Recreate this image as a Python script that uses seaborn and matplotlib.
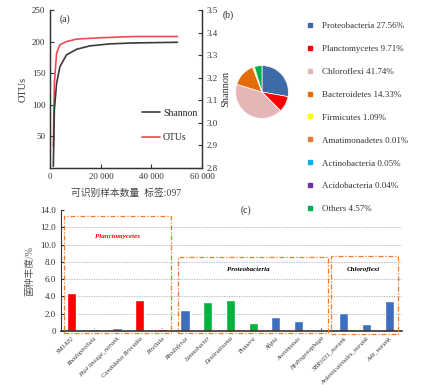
import numpy as np
import pandas as pd
import seaborn as sns
import matplotlib
matplotlib.use("Agg")
import matplotlib.pyplot as plt
from matplotlib.lines import Line2D
from matplotlib.patches import Rectangle

sns.set_style("ticks")
plt.rcParams['font.family'] = ['Liberation Serif', 'Noto Sans CJK SC', 'DejaVu Sans']

# ---- (a) rarefaction data ----
otu_x = [1200, 1600, 2500, 3800, 6400, 10400, 19600, 32800, 50300]
otu_y = [34, 134, 182, 195, 200, 204, 206, 208, 208]
sh_x = [1200, 1600, 2500, 3800, 6400, 10400, 15600, 23600, 32800, 50300]
sh_y = [2.807, 3.058, 3.176, 3.249, 3.301, 3.326, 3.341, 3.350, 3.354, 3.357]

# ---- (b) phylum composition ----
phyla = ["Proteobacteria", "Planctomycetes", "Chloroflexi", "Bacteroidetes", "Firmicutes",
         "Amatimonadetes", "Actinobacteria", "Acidobacteria", "Others"]
phyla_pct = [27.56, 9.71, 41.74, 14.33, 1.09, 0.01, 0.05, 0.04, 4.57]
phyla_labels = ["27.56%", "9.71%", "41.74%", "14.33%", "1.09%", "0.01%", "0.05%", "0.04%", "4.57%"]
phyla_colors = ["#3E6AA8", "#FF0000", "#E6B5B5", "#E36C0A", "#FFFF00",
                "#E07B39", "#00B0F0", "#7030A0", "#00B050"]

# ---- (c) genus abundance ----
genera = ["SM1A02", "Rhodopirellula", "Pla4 lineage_norank", "Candidatus Brocadia", "Pirellula",
          "Rhodoferax", "Limnobacter", "Denitratisoma", "Thauera", "Afipia", "Arenimonas",
          "Hydrogenophaga", "SBR1031_norank", "Ardenticatenales_norank", "A4b_norank"]
genus_vals = [4.44, 0.19, 0.35, 3.63, 0.23, 2.43, 3.36, 3.63, 0.93, 1.62, 1.12, 0.10, 2.05, 0.81, 3.47]
genus_colors = ["#FF0000", "#3A6FBF", "#3A6FBF", "#FF0000", "#FF0000",
                "#3A6FBF", "#00B33C", "#00B33C", "#00B33C", "#3A6FBF", "#3A6FBF",
                "#00B33C", "#3A6FBF", "#3A6FBF", "#3A6FBF"]
groups = ["Planctomycetes", "Proteobacteria", "Chloroflexi"]
group_span = [(-0.34, 4.38, -0.22, 13.3), (4.70, 11.31, -0.2, 8.53), (11.45, 14.4, -0.35, 8.71)]
group_label_pos = [(2.0, 10.9), (7.8, 7.15), (12.85, 7.15)]
group_label_colors = ["#FF0000", "black", "black"]

W, H = 423, 385
fig = plt.figure(figsize=(W / 100, H / 100), dpi=100)

def fx(px):
    return px / W

def fy(py):
    return 1 - py / H

# ================= (a) =================
axa = fig.add_axes([fx(50.3), fy(168), fx(202 - 50.3), (168 - 10) / H])
axb2 = axa.twinx()
df_otu = pd.DataFrame({"x": otu_x, "y": otu_y})
df_sh = pd.DataFrame({"x": sh_x, "y": sh_y})
sns.lineplot(data=df_otu, x="x", y="y", ax=axa, color="#F0484E", lw=1.2)
sns.lineplot(data=df_sh, x="x", y="y", ax=axb2, color="#3A3A3A", lw=1.2)
axa.set_xlim(0, 60000)
axa.set_ylim(0, 250)
axb2.set_ylim(2.8, 3.5)
axa.set_xticks([0, 20000, 40000, 60000])
axa.set_xticklabels(["0", "20 000", "40 000", "60 000"])
axa.set_yticks([50, 100, 150, 200, 250])
axb2.set_yticks([2.8, 2.9, 3.0, 3.1, 3.2, 3.3, 3.4, 3.5])
axb2.set_yticklabels(["2.8", "2.9", "3.0", "3.1", "3.2", "3.3", "3.4", "3.5"])
for a in (axa, axb2):
    a.tick_params(direction="in", length=3, width=0.8, labelsize=6.5, colors="#333333")
    a.spines["top"].set_visible(False)
    for s in a.spines.values():
        s.set_linewidth(0.9)
        s.set_color("#333333")
axa.set_xlabel("可识别样本数量  标签:097", fontsize=7, color="#444444", labelpad=5)
axa.set_ylabel("OTUs", fontsize=7.5, color="#333333", labelpad=3)
axb2.set_ylabel("Shannon", fontsize=7.5, color="#333333", labelpad=2)
axa.text(0.06, 0.97, "(a)", transform=axa.transAxes, fontsize=7, va="top")
hs = [Line2D([0], [0], color="#3A3A3A", lw=1.2), Line2D([0], [0], color="#F0484E", lw=1.2)]
axa.legend(hs, ["Shannon", "OTUs"], loc="center left", bbox_to_anchor=(0.55, 0.27),
           frameon=False, fontsize=7, handlelength=1.8, handletextpad=0.3, labelspacing=1.6)

# ================= (b) =================
r = 33
axp = fig.add_axes([fx(262 - r), fy(92 + r), 2 * r / W, 2 * r / H])
axp.pie(phyla_pct, colors=phyla_colors, startangle=90, counterclock=False,
        wedgeprops=dict(linewidth=0.5, edgecolor="white"))
axp.set_aspect("equal")
fig.text(fx(223), fy(15), "(b)", fontsize=7, va="center")
phandles = [Line2D([0], [0], marker="s", ls="none", color=c, markersize=3.5) for c in phyla_colors]
plabels = [f"{p} {l}" for p, l in zip(phyla, phyla_labels)]
fig.legend(phandles, plabels, loc="upper left", bbox_to_anchor=(fx(302), fy(17)),
           frameon=False, fontsize=6.5, handlelength=0.8, handletextpad=0.9,
           labelspacing=1.62, borderpad=0, labelcolor="#333333")

# ================= (c) =================
axc = fig.add_axes([fx(61), fy(331), fx(402 - 61), (331 - 210) / H])
df_g = pd.DataFrame({"genus": genera, "val": genus_vals})
sns.barplot(data=df_g, x="genus", y="val", hue="genus", palette=genus_colors,
            width=0.4, legend=False, ax=axc, saturation=1)
axc.set_xlim(-0.47, 14.57)
axc.set_ylim(0, 14)
axc.set_yticks(np.arange(0, 15, 2))
axc.set_yticklabels(["0"] + [f"{v:.1f}" for v in np.arange(2, 15, 2)])
for v in np.arange(2, 13, 2):
    axc.axhline(v, color="#AAAAAA", ls=(0, (1.5, 1.5)), lw=0.6, zorder=0)
axc.spines["top"].set_visible(False)
axc.spines["right"].set_visible(False)
axc.spines["left"].set_color("#333333")
axc.spines["bottom"].set_color("#333333")
axc.spines["bottom"].set_linewidth(1.2)
axc.tick_params(axis="y", direction="in", length=2, labelsize=6.5, colors="#333333")
axc.tick_params(axis="x", direction="in", length=2, colors="#333333")
axc.set_xticks(range(len(genera)))
axc.set_xticklabels(genera, rotation=45, ha="right", rotation_mode="anchor",
                    fontsize=4.6, style="italic", color="#333333")
axc.set_xlabel("")
axc.set_ylabel("菌种丰度/%", fontsize=7, color="#555555", labelpad=4)
for (x0, x1, y0, y1) in group_span:
    axc.add_patch(Rectangle((x0, y0), x1 - x0, y1 - y0, fill=False, edgecolor="#F07A28",
                            ls=(0, (4, 1.5, 1, 1.5)), lw=0.9, clip_on=False, zorder=5))
for g, (x, y), c in zip(groups, group_label_pos, group_label_colors):
    axc.text(x, y, g, ha="center", va="center", fontsize=5, style="italic",
             weight="bold", color=c)
fig.text(fx(246), fy(210), "(c)", fontsize=7, ha="center", va="center")

fig.savefig("out.png", dpi=100)
